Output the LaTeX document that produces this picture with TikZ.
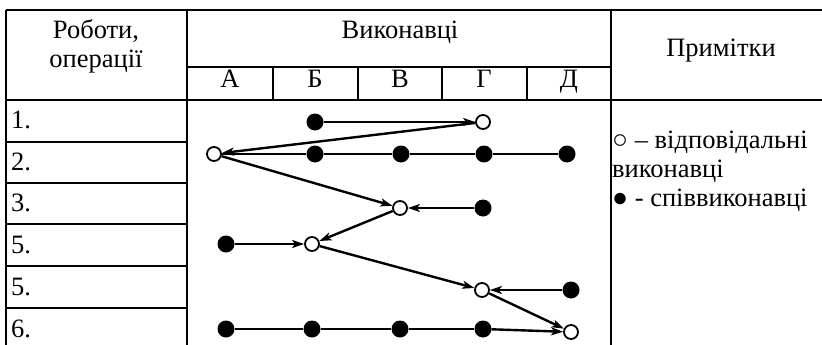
\documentclass[tikz,border=0pt]{standalone}
\usepackage{fontspec}
\setmainfont{Liberation Serif}
\usepackage{tikz}
\usetikzlibrary{arrows.meta}
\tikzstyle{grid}=[line width=1.8pt]
\tikzstyle{done}=[circle, fill=black, inner sep=0pt, minimum size=17pt]
\tikzstyle{resp}=[circle, draw=black, line width=1.8pt, fill=white, inner sep=0pt, minimum size=14pt]
\tikzstyle{link}=[line width=2.4pt]
\tikzstyle{flow}=[line width=2.4pt, -{Stealth[length=12pt, width=8pt, inset=3pt]}]
\tikzstyle{txt}=[anchor=base, inner sep=0pt, font=\fontsize{26.5}{30}\selectfont]

\begin{document}
\begin{tikzpicture}[x=1pt, y=-1pt]
\clip (0,0) rectangle (822,345);

% table frame
\draw[grid] (6,10) -- (840,10);
\draw[grid] (6,100) -- (840,100);
\draw[grid] (187,67) -- (611,67);
\draw[grid] (6,10) -- (6,360);
\draw[grid] (187,10) -- (187,360);
\draw[grid] (611,10) -- (611,360);
\draw[grid] (831,10) -- (831,360);
\foreach \x in {273,358,442,527}
\draw[grid] (\x,67) -- (\x,100);
\foreach \y in {142,183,224,266,308,350}
\draw[grid] (6,\y) -- (187,\y);

% header
\node[txt] (hw) at (96,39) {Роботи,};
\node[txt] (ho) at (96,67) {операції};
\node[txt] (hv) at (400,39) {Виконавці};
\node[txt] (hp) at (721,57) {Примітки};
\foreach \c/\x in {А/230,Б/315,В/400,Г/484,Д/569}
\node[txt] (h\x) at (\x,88) {\c};

% rows
\foreach \t/\y in {1./128,2./170,3./211,5./253,5./295,6./337}
\node[txt, anchor=base west] (r\y) at (11,\y) {\t};

% notes
\node[txt, anchor=base west] (n1) at (612,148) {○ – відповідальні};
\node[txt, anchor=base west] (n2) at (612,177) {виконавці};
\node[txt, anchor=base west] (n3) at (612,206) {● - співвиконавці};

% performers
\node[done] (1b) at (315,122) {};
\node[resp] (1g) at (483,122) {};
\node[resp] (2a) at (214,154) {};
\node[done] (2b) at (315,154) {};
\node[done] (2v) at (401,154) {};
\node[done] (2g) at (484,154) {};
\node[done] (2d) at (567,154) {};
\node[resp] (3v) at (400,208) {};
\node[done] (3g) at (483,208) {};
\node[done] (4a) at (226,244) {};
\node[resp] (4b) at (312,244) {};
\node[resp] (5g) at (482,290) {};
\node[done] (5d) at (571,290) {};
\node[done] (6a) at (226,329) {};
\node[done] (6b) at (312,329) {};
\node[done] (6v) at (400,329) {};
\node[done] (6g) at (483,329) {};
\node[resp] (6d) at (571,332) {};

\draw[flow] (1b)--(1g);
\draw[flow] (1g)--(2a);
\draw[link] (2a)--(2b);
\draw[link] (2b)--(2v);
\draw[link] (2v)--(2g);
\draw[link] (2g)--(2d);
\draw[flow] (2a)--(3v);
\draw[flow] (3g)--(3v);
\draw[flow] (3v)--(4b);
\draw[flow] (4a)--(4b);
\draw[flow] (4b)--(5g);
\draw[flow] (5d)--(5g);
\draw[flow] (5g)--(6d);
\draw[link] (6a)--(6b);
\draw[link] (6b)--(6v);
\draw[link] (6v)--(6g);
\draw[flow] (6g)--(6d);
\end{tikzpicture}
\end{document}
